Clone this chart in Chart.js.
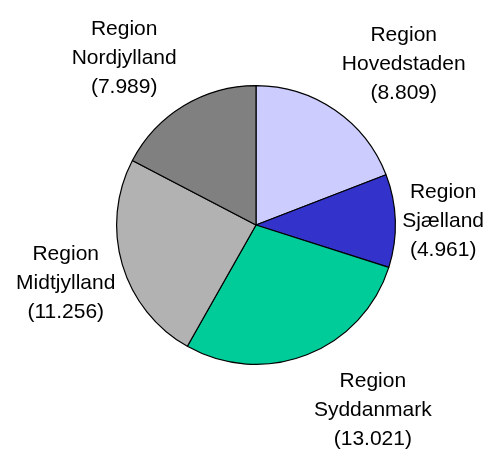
<!DOCTYPE html>
<html>
<head>
<meta charset="utf-8">
<script src="https://cdn.jsdelivr.net/npm/chart.js@4/dist/chart.umd.min.js"></script>
<style>
  html, body { margin: 0; padding: 0; background: #fff; }
  #c { display: block; }
</style>
</head>
<body>
<canvas id="c" width="496" height="451"></canvas>
<script>
const categories = ['Region Hovedstaden', 'Region Sjælland', 'Region Syddanmark', 'Region Midtjylland', 'Region Nordjylland'];
const values = [8809, 4961, 13021, 11256, 7989];
const colors = ['#CCCCFF', '#3333CC', '#00CC99', '#B2B2B2', '#808080'];

function fmt(v) {
  return String(v).replace(/\B(?=(\d{3})+(?!\d))/g, '.');
}

const FONT = '21px "Liberation Sans", Arial, sans-serif';
const LINE_H = 29;

const labelPlugin = {
  id: 'outsideLabels',
  afterDatasetsDraw(chart) {
    const ctx = chart.ctx;
    const meta = chart.getDatasetMeta(0);
    ctx.save();
    ctx.font = FONT;
    ctx.fillStyle = '#000';
    ctx.textAlign = 'center';
    ctx.textBaseline = 'alphabetic';
    meta.data.forEach((arc, i) => {
      const p = arc.getProps(['x', 'y', 'startAngle', 'endAngle', 'outerRadius'], true);
      const a = (p.startAngle + p.endAngle) / 2;
      const cat = chart.data.labels[i];
      const sp = cat.indexOf(' ');
      const lines = [cat.slice(0, sp), cat.slice(sp + 1), '(' + fmt(chart.data.datasets[0].data[i]) + ')'];
      const w = Math.max(...lines.map(l => ctx.measureText(l).width));
      const ca = Math.cos(a), sa = Math.sin(a);
      const cx = p.x + p.outerRadius * ca + Math.sign(ca) * (w / 2 + 7);
      const cy = p.y + p.outerRadius * sa + sa * 58;
      lines.forEach((l, j) => {
        ctx.fillText(l, cx, cy + 7.5 + (j - 1) * LINE_H);
      });
    });
    ctx.restore();
  }
};

new Chart(document.getElementById('c'), {
  type: 'pie',
  data: {
    labels: categories,
    datasets: [{
      data: values,
      backgroundColor: colors,
      borderColor: '#000000',
      borderWidth: 1.2
    }]
  },
  options: {
    responsive: false,
    animation: false,
    layout: { padding: { left: 116, right: 100, top: 85, bottom: 86 } },
    plugins: {
      legend: { display: false },
      tooltip: { enabled: false }
    }
  },
  plugins: [labelPlugin]
});
</script>
</body>
</html>
